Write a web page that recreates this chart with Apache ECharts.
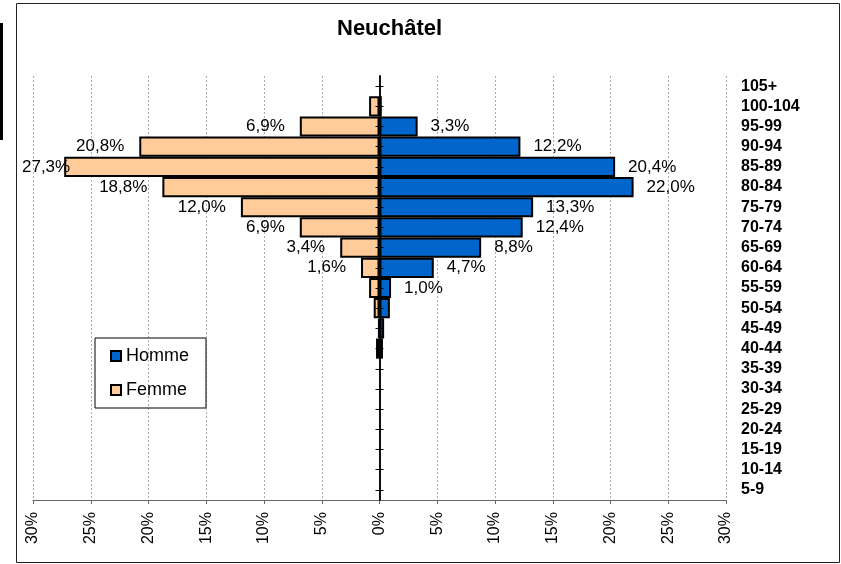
<!DOCTYPE html>
<html>
<head>
<meta charset="utf-8">
<script src="https://cdn.jsdelivr.net/npm/echarts@6/dist/echarts.min.js"></script>
<style>
  html, body { margin: 0; padding: 0; background: #fff; }
  #main { width: 841px; height: 564px; }
</style>
</head>
<body>
<div id="main"></div>
<script>
// classes d'âge, du bas vers le haut
var ages = ['5-9', '10-14', '15-19', '20-24', '25-29', '30-34', '35-39', '40-44', '45-49',
  '50-54', '55-59', '60-64', '65-69', '70-74', '75-79', '80-84', '85-89', '90-94',
  '95-99', '100-104', '105+'];
// parts en %
var homme = [0, 0, 0, 0, 0, 0, 0, 0.3, 0.4, 0.9, 1.0, 4.7, 8.8, 12.4, 13.3, 22.0, 20.4, 12.2, 3.3, 0.2, 0];
var femme = [0, 0, 0, 0, 0, 0, 0, 0.3, 0.1, 0.5, 0.9, 1.6, 3.4, 6.9, 12.0, 18.8, 27.3, 20.8, 6.9, 0.9, 0];
var xTicks = [-30, -25, -20, -15, -10, -5, 0, 5, 10, 15, 20, 25, 30];

var FONT = '"Liberation Sans", Arial, sans-serif';

function pct(v) {
  var a = Math.abs(v);
  if (a < 1) return '';
  return a.toFixed(1).replace('.', ',') + '%';
}

var chart = echarts.init(document.getElementById('main'));

chart.setOption({
  animation: false,
  textStyle: { fontFamily: FONT },
  title: {
    text: 'Neuchâtel',
    left: 337,
    top: 18,
    padding: 0,
    textStyle: { fontSize: 22, fontWeight: 'bold', color: '#000', fontFamily: FONT }
  },
  legend: {
    data: ['Homme', 'Femme'],
    orient: 'vertical',
    left: 95,
    top: 338,
    padding: [9, 17, 9, 15],
    itemGap: 16,
    itemWidth: 10,
    itemHeight: 10,
    icon: 'rect',
    borderColor: '#000',
    borderWidth: 1,
    textStyle: { fontSize: 18, color: '#000', fontFamily: FONT }
  },
  grid: {
    left: 33,
    right: 115,
    top: 76,
    bottom: 64,
    containLabel: false,
    outerBoundsMode: 'none'
  },
  xAxis: {
    type: 'value',
    min: xTicks[0],
    max: xTicks[xTicks.length - 1],
    interval: 5,
    axisLine: { show: true, onZero: false, lineStyle: { color: '#666', width: 1 } },
    axisTick: { show: true, length: 4, lineStyle: { color: '#666' } },
    axisLabel: {
      rotate: 90,
      margin: 12,
      fontSize: 16,
      color: '#000',
      formatter: function (v) { return Math.abs(v) + '%'; }
    },
    splitLine: { show: true, lineStyle: { color: '#aaa', width: 1, type: [2, 2] } }
  },
  yAxis: [
    {
      type: 'category',
      data: ages,
      position: 'left',
      axisLine: { onZero: true, onZeroAxisIndex: 0, lineStyle: { color: '#000', width: 1.5 } },
      axisTick: { show: true, interval: 0, alignWithLabel: true, length: 4, lineStyle: { color: '#000' } },
      axisLabel: { show: false, interval: 0 },
      splitLine: { show: false },
      z: 5
    },
    {
      type: 'category',
      data: ages,
      position: 'left',
      axisLine: { onZero: true, onZeroAxisIndex: 0, lineStyle: { color: '#000', width: 1.5 } },
      axisTick: { show: true, interval: 0, alignWithLabel: true, inside: true, length: 4, lineStyle: { color: '#000' } },
      axisLabel: { show: false, interval: 0 },
      splitLine: { show: false },
      z: 5
    },
    {
      type: 'category',
      data: ages,
      position: 'right',
      axisLine: { show: false, onZero: false },
      axisTick: { show: false },
      axisLabel: { interval: 0, fontSize: 16, fontWeight: 'bold', color: '#000', align: 'left', margin: 15 },
      splitLine: { show: false }
    }
  ],
  series: [
    {
      name: 'Homme',
      type: 'bar',
      stack: 'pop',
      yAxisIndex: 0,
      barCategoryGap: '0%',
      data: homme.map(function (v) { return v === 0 ? '-' : v; }),
      itemStyle: { color: '#0066CC', borderColor: '#000', borderWidth: 2 },
      label: {
        show: true,
        position: 'right',
        distance: 13,
        fontSize: 17,
        color: '#000',
        formatter: function (p) { return pct(p.value); }
      }
    },
    {
      name: 'Femme',
      type: 'bar',
      stack: 'pop',
      yAxisIndex: 0,
      barCategoryGap: '0%',
      data: femme.map(function (v) {
        if (v === 0) return '-';
        // l'étiquette de la plus longue barre rentre dans la barre
        if (v > 25) return { value: -v, label: { distance: -6 } };
        return -v;
      }),
      itemStyle: { color: '#FFCC99', borderColor: '#000', borderWidth: 2 },
      label: {
        show: true,
        position: 'left',
        distance: 15,
        fontSize: 17,
        color: '#000',
        formatter: function (p) { return pct(p.value); }
      }
    }
  ],
  graphic: [
    {
      type: 'rect',
      shape: { x: 16.5, y: 3.5, width: 823, height: 559 },
      style: { fill: 'none', stroke: '#222', lineWidth: 1 },
      silent: true
    },
    {
      type: 'rect',
      shape: { x: 0, y: 23, width: 3, height: 117 },
      style: { fill: '#000' },
      silent: true
    }
  ]
});
</script>
</body>
</html>
